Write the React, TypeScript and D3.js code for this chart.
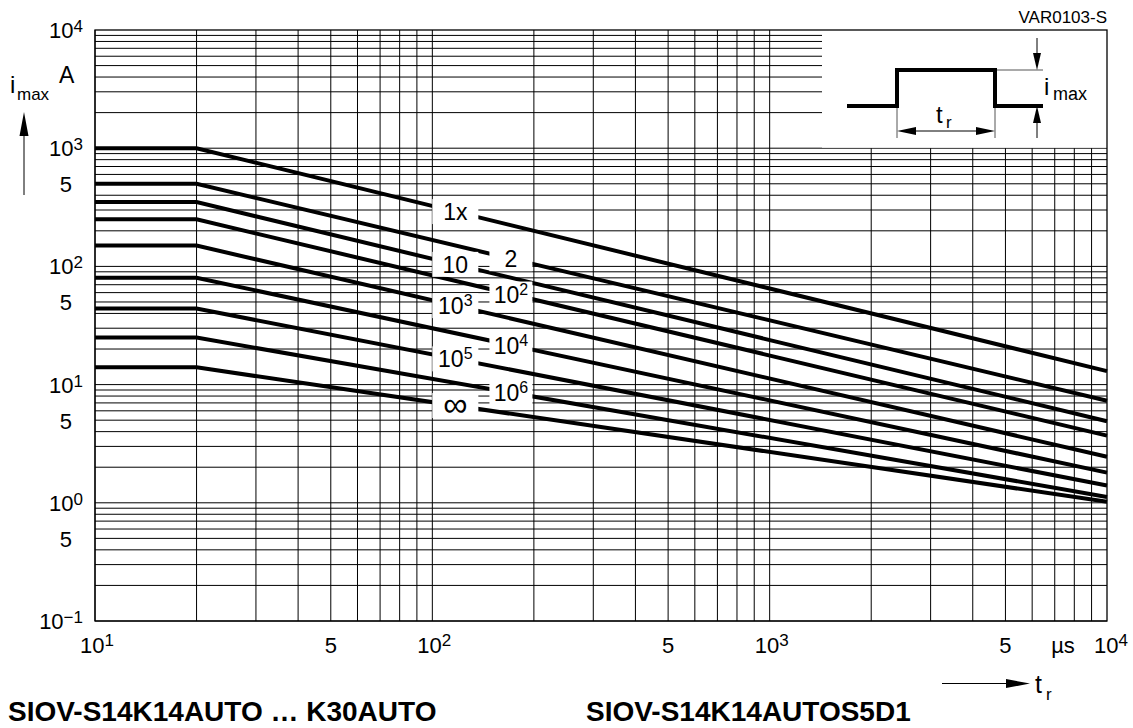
import React from "react";
import * as d3 from "d3";

// ---- data ----
const curveLabelBase = ["1x", "2", "10", "10", "10", "10", "10", "10", "∞"];
const curveLabelSup = ["", "", "", "2", "3", "4", "5", "6", ""];
const iFlat = [1000, 500, 350, 250, 150, 80, 44, 25, 14]; // A, for tr <= 20 µs
const iEnd = [13, 7.3, 4.9, 3.7, 2.45, 1.8, 1.4, 1.12, 1.02]; // A, at tr = 10^4 µs
const tStart = 10;
const tKnee = 20;
const tStop = 10000;
const labelT = [117, 171, 117, 171, 117, 171, 117, 171, 117]; // µs, label positions

const yDecades = [-1, 0, 1, 2, 3, 4];
const yFiveLabels = [500, 50, 5, 0.5];
const xDecades = [1, 2, 3, 4];
const xFiveLabels = [50, 500, 5000];

const W = 1133;
const H = 728;
const FONT = "'Liberation Sans', Arial, Helvetica, sans-serif";

export default function App() {
  const x = d3.scaleLog().domain([10, 1e4]).range([95, 1107]);
  const y = d3.scaleLog().domain([0.1, 1e4]).range([621, 30]);

  const insetLeft = 822;
  const yTop = y(1e4);
  const y1000 = y(1000);

  // grid
  const vGrid: number[] = [];
  for (let d = 1; d <= 3; d++) for (let m = 1; m <= 9; m++) vGrid.push(m * Math.pow(10, d));
  const hGrid: number[] = [];
  for (let d = -1; d <= 3; d++) for (let m = 1; m <= 9; m++) hGrid.push(m * Math.pow(10, d));

  const line = d3
    .line<[number, number]>()
    .x((d) => x(d[0]))
    .y((d) => y(d[1]));

  const curveVal = (i: number, t: number) => {
    if (t <= tKnee) return iFlat[i];
    const k = Math.log(iEnd[i] / iFlat[i]) / Math.log(tStop / tKnee);
    return iFlat[i] * Math.pow(t / tKnee, k);
  };

  return (
    <svg
      width={W}
      height={H}
      style={{ position: "absolute", left: 0, top: 0, background: "#fff" }}
      fontFamily={FONT}
    >
      <rect x={0} y={0} width={W} height={H} fill="#fff" />
      {/* vertical grid */}
      {vGrid.map((v, i) => (
        <line
          key={"v" + i}
          x1={x(v)}
          x2={x(v)}
          y1={y(0.1)}
          y2={x(v) > insetLeft ? y1000 : yTop}
          stroke="#000"
          strokeWidth={1}
        />
      ))}
      {/* horizontal grid */}
      {hGrid.map((v, i) => (
        <line
          key={"h" + i}
          x1={x(10)}
          x2={v > 1000 ? insetLeft : x(1e4)}
          y1={y(v)}
          y2={y(v)}
          stroke="#000"
          strokeWidth={1}
        />
      ))}

      {/* curves */}
      {iFlat.map((_, i) => (
        <path
          key={"c" + i}
          d={line([
            [tStart, iFlat[i]],
            [tKnee, iFlat[i]],
            [tStop, iEnd[i]],
          ]) || ""}
          fill="none"
          stroke="#000"
          strokeWidth={4}
          strokeLinejoin="miter"
        />
      ))}

      {/* curve labels */}
      {iFlat.map((_, i) => {
        const cx = x(labelT[i]);
        const cy = y(curveVal(i, labelT[i]));
        const w = i % 2 === 0 ? 46 : 43;
        const isInf = curveLabelBase[i] === "∞";
        return (
          <g key={"l" + i}>
            <rect x={cx - w / 2} y={cy - 12.5} width={w} height={25} fill="#fff" />
            <text
              x={cx}
              y={isInf ? cy + 10 : cy + 8.5}
              textAnchor="middle"
              fontSize={isInf ? 34 : 23}
              fill="#000"
            >
              {curveLabelBase[i]}
              {curveLabelSup[i] && (
                <tspan dy={-8} fontSize={16}>
                  {curveLabelSup[i]}
                </tspan>
              )}
            </text>
          </g>
        );
      })}

      {/* inset blanking */}
      <rect x={insetLeft} y={yTop} width={x(1e4) - insetLeft} height={y1000 - yTop - 0.5} fill="#fff" />

      {/* plot border */}
      <rect
        x={x(10)}
        y={yTop}
        width={x(1e4) - x(10)}
        height={y(0.1) - yTop}
        fill="none"
        stroke="#000"
        strokeWidth={1.3}
      />

      {/* inset pulse */}
      <g>
        <line x1={995} x2={1043} y1={70} y2={70} stroke="#555" strokeWidth={1} />
        <line x1={897} x2={897} y1={106} y2={138} stroke="#555" strokeWidth={1} />
        <line x1={995} x2={995} y1={106} y2={138} stroke="#555" strokeWidth={1} />
        <path
          d="M847,106 L897,106 L897,70 L995,70 L995,106 L1043,106"
          fill="none"
          stroke="#000"
          strokeWidth={4}
        />
        <line x1={910} x2={982} y1={131} y2={131} stroke="#000" strokeWidth={1} />
        <polygon points="897,131 916,127 916,135" fill="#000" />
        <polygon points="995,131 976,127 976,135" fill="#000" />
        <line x1={1037} x2={1037} y1={38} y2={60} stroke="#000" strokeWidth={1} />
        <polygon points="1037,70 1033,53 1041,53" fill="#000" />
        <line x1={1037} x2={1037} y1={115} y2={138} stroke="#000" strokeWidth={1} />
        <polygon points="1037,106 1033,123 1041,123" fill="#000" />
        <text x={936} y={123} fontSize={24}>t</text>
        <text x={946} y={128} fontSize={17}>r</text>
        <text x={1044} y={95} fontSize={24}>i</text>
        <text x={1053} y={100} fontSize={18}>max</text>
      </g>

      <text x={1107} y={23} fontSize={17} textAnchor="end">VAR0103-S</text>

      {/* y tick labels */}
      {yDecades.map((d) => (
        <text key={"yd" + d} x={83} y={y(Math.pow(10, d)) + 8} fontSize={22} textAnchor="end">
          10
          <tspan dy={-6} fontSize={17}>{d < 0 ? "\u2212" + Math.abs(d) : String(d)}</tspan>
        </text>
      ))}
      {yFiveLabels.map((v) => (
        <text key={"y5" + v} x={72} y={y(v) + 8.5} fontSize={22} textAnchor="end">5</text>
      ))}

      {/* y axis title */}
      <text x={10} y={93} fontSize={24}>i</text>
      <text x={17} y={100} fontSize={17}>max</text>
      <text x={59} y={83} fontSize={23}>A</text>
      <line x1={24} x2={24} y1={195} y2={125} stroke="#000" strokeWidth={1} />
      <polygon points="24,112 19.5,136 28.5,136" fill="#000" />

      {/* x tick labels */}
      {xDecades.map((d) => {
        const last = d === 4;
        return (
          <text
            key={"xd" + d}
            x={last ? x(Math.pow(10, d)) + 4 : x(Math.pow(10, d)) + 2}
            y={653}
            fontSize={22}
            textAnchor="middle"
          >
            10
            <tspan dy={-7} fontSize={17}>{String(d)}</tspan>
          </text>
        );
      })}
      {xFiveLabels.map((v) => (
        <text key={"x5" + v} x={x(v)} y={653} fontSize={22} textAnchor="middle">5</text>
      ))}
      <text x={1063} y={653} fontSize={22} textAnchor="middle">µs</text>

      {/* x axis title */}
      <line x1={942} x2={1012} y1={683.5} y2={683.5} stroke="#000" strokeWidth={1} />
      <polygon points="1030,683.5 1006,679 1006,688" fill="#000" />
      <text x={1035} y={693} fontSize={25}>t</text>
      <text x={1046} y={700} fontSize={17}>r</text>

      {/* titles */}
      <text x={8} y={721} fontSize={28} fontWeight="bold">SIOV-S14K14AUTO … K30AUTO</text>
      <text x={586} y={721} fontSize={28} fontWeight="bold">SIOV-S14K14AUTOS5D1</text>
    </svg>
  );
}
